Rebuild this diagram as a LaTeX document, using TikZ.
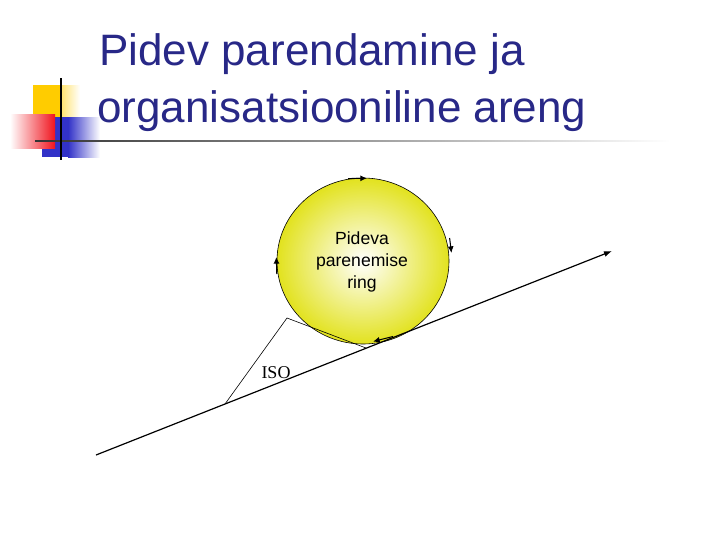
\documentclass[tikz,border=0pt]{standalone}
\usepackage{fontspec}
\setmainfont{Liberation Sans}
\newfontfamily\serifISO{Liberation Serif}
\usetikzlibrary{arrows.meta,shapes.geometric}
\definecolor{titleblue}{RGB}{40,40,135}
\definecolor{ringyellow}{RGB}{226,226,30}
\definecolor{decoyellow}{RGB}{255,204,0}
\definecolor{decoblue}{RGB}{50,50,200}
\definecolor{decored}{RGB}{240,20,30}
\tikzset{
  titletext/.style={anchor=base west, text=titleblue, font=\fontsize{33}{38}\selectfont, inner sep=0pt},
  ringtext/.style={align=center, font=\fontsize{13.2}{16.5}\selectfont, inner sep=0pt},
  ringarrow/.style={-{Latex[length=5pt,width=4.5pt]}, line width=0.8pt},
  mainline/.style={-{Latex[length=6pt,width=4.5pt]}, line width=0.9pt},
  thinline/.style={line width=0.45pt},
}
\begin{document}
\begin{tikzpicture}[x=0.75pt,y=-0.75pt]
\useasboundingbox (0,0) rectangle (720,540);
% decoration
\shade[left color=decoyellow, right color=white, middle color=decoyellow!70] (33,85) rectangle (80,120);
\fill[decoyellow] (33,85) rectangle (60,120);
\shade[left color=decoblue, right color=white] (68,117) rectangle (100,157);
\fill[decoblue] (42,117) rectangle (68,157);
\shade[left color=white, right color=decored] (10,114) rectangle (55,148);
\shade[left color=black!80, right color=white] (35,140.2) rectangle (670,141.8);
\draw[line width=1.5pt] (61,78) -- (61,160);
% title
\node[titletext] (t1) at (99,65) {Pidev parendamine ja};
\node[titletext] (t2) at (97,122) {organisatsiooniline areng};
% ring
\shade[inner color=white, outer color=ringyellow] (363,261) ellipse [x radius=86, y radius=83];
\draw[thinline] (363,261) ellipse [x radius=86, y radius=83];
\node[ringtext] (rt) at (362,262) {Pideva\\parenemise\\ring};
% arrows on ring
\coordinate (a1) at (348,178.6);
\coordinate (a2) at (367,178.2);
\draw[ringarrow] (a1) -- (a2);
\coordinate (b1) at (449.6,238);
\coordinate (b2) at (451.5,253);
\draw[ringarrow] (b1) -- (b2);
\coordinate (c1) at (276.8,274);
\coordinate (c2) at (276.3,257);
\draw[ringarrow] (c1) -- (c2);
\coordinate (d1) at (393,336.5);
\coordinate (d2) at (373,341.5);
\draw[ringarrow] (d1) -- (d2);
% main line
\coordinate (m1) at (96,455);
\coordinate (m2) at (612,251);
\draw[mainline] (m1) -- (m2);
% wedge
\coordinate (w1) at (225,404);
\coordinate (w2) at (287,318);
\coordinate (w3) at (366,348);
\draw[thinline] (w1) -- (w2) -- (w3);
\node[font=\serifISO\fontsize{13.5}{16}\selectfont, inner sep=0pt] (iso) at (276,373) {ISO};
\end{tikzpicture}
\end{document}
